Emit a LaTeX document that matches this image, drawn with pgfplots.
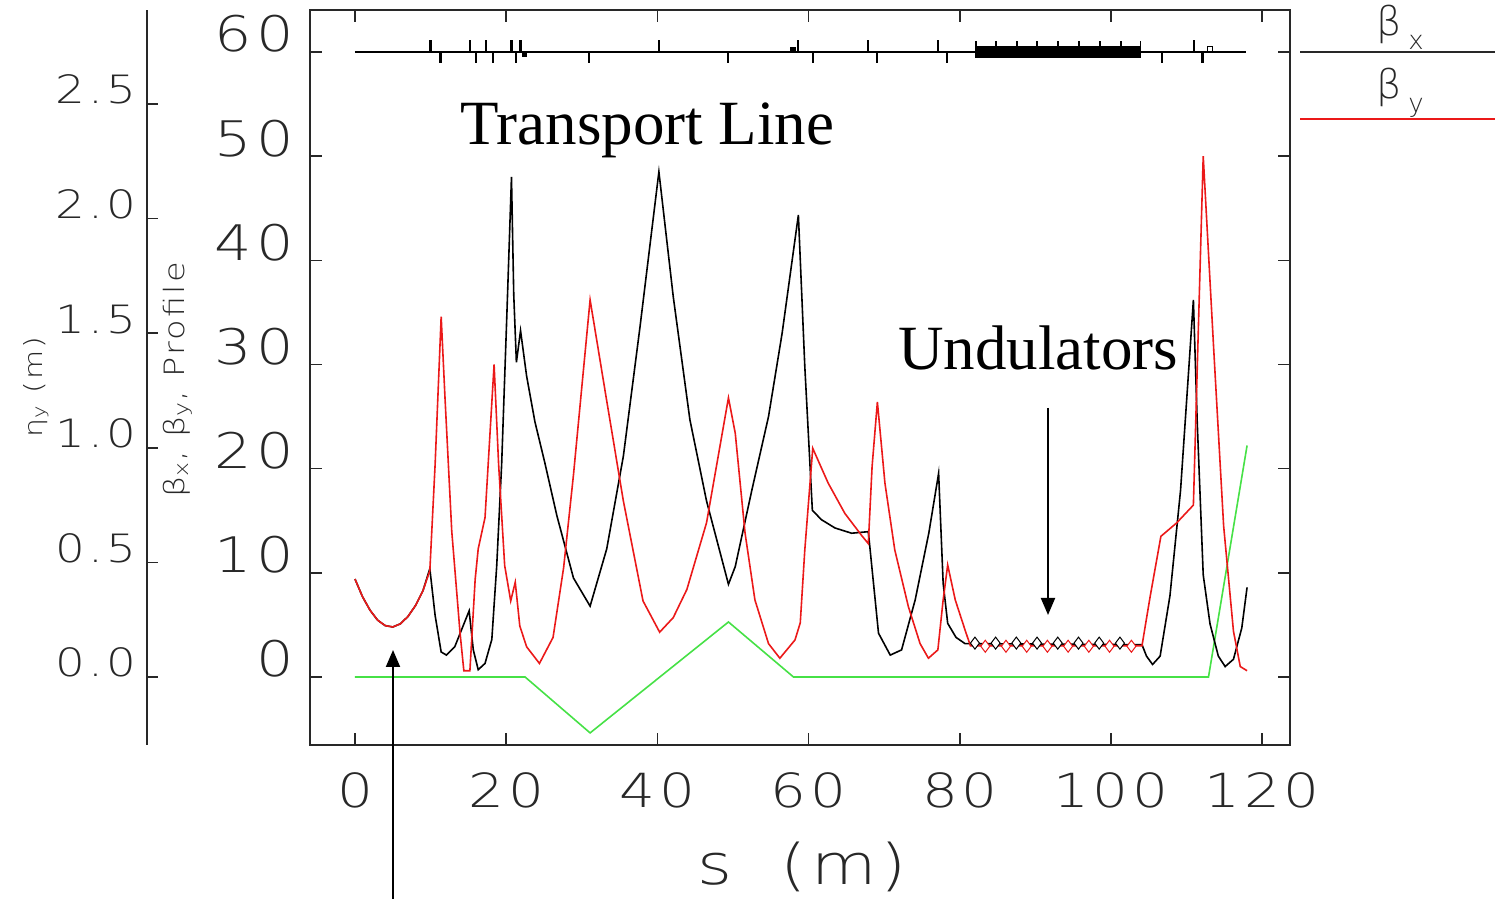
\documentclass[border=0pt]{standalone}
\usepackage{pgfplots}
\pgfplotsset{compat=1.18}
\usepackage{fontspec}
\setmainfont{Liberation Serif}
\newfontfamily\thin[FakeStretch=1.2,LetterSpace=8]{DejaVu Sans ExtraLight}
\newfontfamily\thinnl{DejaVu Sans ExtraLight}
\usetikzlibrary{arrows.meta}
\definecolor{myred}{RGB}{235,25,25}
\definecolor{mygreen}{RGB}{70,225,70}
\definecolor{txt}{RGB}{40,40,40}

\begin{document}
\begin{tikzpicture}
\path[use as bounding box] (0,0) rectangle (747.5pt,449.5pt);

% eta_y on its own scale (overlay, no axis drawn)
\begin{axis}[at={(155pt,77pt)},anchor=south west,scale only axis,
  width=490pt,height=367.5pt,xmin=-5.95,xmax=123.68,ymin=-0.2967,ymax=2.910,
  hide axis]
\addplot[mygreen,line width=0.8pt] coordinates {
(0,0) (22.5,0) (31.1,-0.244) (49.4,0.24) (58.0,0) (112.9,0) (118.0,1.01)};
\end{axis}

% eta_y axis line
\begin{axis}[at={(73.5pt,77pt)},anchor=south west,scale only axis,
  width=10pt,height=367.5pt,xmin=0,xmax=1,ymin=-0.2967,ymax=2.910,
  axis x line=none,axis y line*=left,axis line style={-,line width=0.8pt,txt},
  ytick={0,0.5,1,1.5,2,2.5},tick align=inside,major tick length=5.5pt,
  every tick/.style={txt,line width=0.8pt},
  yticklabel style={font=\thin\fontsize{19.5}{21}\selectfont,text=txt,anchor=base east,inner sep=0pt,xshift=-5pt},
  /pgf/number format/.cd,fixed,fixed zerofill,precision=1,assume math mode=true]
\addplot[draw=none] coordinates {(0,0)};
\end{axis}

% main axis
\begin{axis}[at={(155pt,77pt)},anchor=south west,scale only axis,
  width=490pt,height=367.5pt,xmin=-5.95,xmax=123.68,ymin=-6.53,ymax=64.03,
  xtick={0,20,40,60,80,100,120},ytick={0,10,20,30,40,50,60},
  tick align=inside,major tick length=6pt,
  axis line style={line width=0.9pt,txt},
  every tick/.style={txt,line width=0.8pt},
  yticklabel style={font=\thin\fontsize{24.5}{26}\selectfont,text=txt,anchor=base east,inner sep=0pt,xshift=-8pt},
  xticklabel style={font=\thin\fontsize{23.5}{26}\selectfont,text=txt,anchor=north,inner sep=0pt,yshift=-13.5pt},
  /pgf/number format/assume math mode=true,clip=false]

% lattice: baseline
\addplot[black,line width=0.7pt] coordinates {(0,60) (117.9,60)};
% focusing elements (up)
\addplot[black,line width=1.1pt,unbounded coords=jump] coordinates {
(10.0,60) (10.0,61.15) (10.0,nan)
(15.2,60) (15.2,61.15) (15.2,nan)
(17.3,60) (17.3,61.15) (17.3,nan)
(20.7,60) (20.7,61.15) (20.7,nan)
(21.9,60) (21.9,61.15) (21.9,nan)
(40.2,60) (40.2,61.15) (40.2,nan)
(58.6,60) (58.6,61.15) (58.6,nan)
(67.9,60) (67.9,61.15) (67.9,nan)
(77.1,60) (77.1,61.15) (77.1,nan)
(111.0,60) (111.0,61.15)};
% defocusing elements (down)
\addplot[black,line width=1.1pt,unbounded coords=jump] coordinates {
(11.3,60) (11.3,58.9) (11.3,nan)
(16.0,60) (16.0,58.9) (16.0,nan)
(18.3,60) (18.3,58.9) (18.3,nan)
(21.3,60) (21.3,58.9) (21.3,nan)
(31.0,60) (31.0,58.9) (31.0,nan)
(49.3,60) (49.3,58.9) (49.3,nan)
(60.6,60) (60.6,58.9) (60.6,nan)
(69.0,60) (69.0,58.9) (69.0,nan)
(78.3,60) (78.3,58.9) (78.3,nan)
(106.7,60) (106.7,58.9) (106.7,nan)
(112.1,60) (112.1,58.9)};
% undulator block
\addplot[fill=black,draw=black,line width=0.4pt] coordinates {
(82.1,59.5) (103.9,59.5) (103.9,60.5) (82.1,60.5)} -- cycle;
\addplot[black,line width=0.9pt,unbounded coords=jump] coordinates {
(82.1,59.5) (82.1,61.1) (82.1,nan)
(84.8,59.5) (84.8,61.1) (84.8,nan)
(87.6,59.5) (87.6,61.1) (87.6,nan)
(90.2,59.5) (90.2,61.1) (90.2,nan)
(93.0,59.5) (93.0,61.1) (93.0,nan)
(95.8,59.5) (95.8,61.1) (95.8,nan)
(98.5,59.5) (98.5,61.1) (98.5,nan)
(101.3,59.5) (101.3,61.1) (101.3,nan)
(103.9,59.5) (103.9,61.1)};
\addplot[only marks,mark=square*,mark size=1.1pt,black] coordinates {(22.4,59.75) (57.9,60.25)};
\addplot[only marks,mark=square,mark size=1.1pt,black,mark options={line width=0.5pt}] coordinates {(113.1,60.3)};

% beta_x
\addplot[black,line width=0.8pt] coordinates {
(0,9.4) (1,7.7) (2,6.4) (3,5.45) (4,4.93) (5,4.8) (6,5.1) (7,5.8) (8,6.85) (9,8.3)
(9.9,10.4) (10.6,5.9) (11.4,2.4) (12.1,2.1) (13.2,2.9) (14.3,4.9) (15.1,6.35)
(15.65,2.6) (16.3,0.7) (17.2,1.3) (18.1,3.6) (18.75,10.7) (19.4,20.4) (20.1,35.0)
(20.7,48.0) (21.0,36.7) (21.35,30.2) (21.9,33.25) (22.7,28.9) (23.8,24.5) (25.1,20.6)
(26.7,15.5) (28.9,9.5) (31.1,6.8) (33.3,12.3) (35.5,21.2) (37.7,33.6) (40.2,48.5)
(42.1,36.5) (44.3,24.7) (46.5,16.9) (49.4,8.9) (50.3,10.6) (52.5,17.95) (54.7,25.0)
(56.5,33.0) (58.65,44.35) (59.5,29.8) (60.5,16.0) (61.7,15.1) (63.5,14.3) (65.7,13.8)
(67.9,13.95) (69.25,4.2) (70.8,2.1) (72.3,2.6) (74.1,7.4) (75.9,13.8) (77.2,19.55)
(77.8,9.0) (78.4,5.15) (79.5,3.8) (80.7,3.2) (104.1,3.1) (104.7,2.0) (105.5,1.2)
(106.5,2.0) (107.8,7.8) (109.2,17.9) (110.3,29.7) (110.9,36.2) (111.4,24.6) (112.2,9.8)
(113.1,5.1) (114.2,2.0) (115.1,1.0) (116.2,1.7) (117.3,4.7) (118.0,8.6)};
% beta_y
\addplot[myred,line width=0.8pt] coordinates {
(0,9.4) (1,7.7) (2,6.4) (3,5.45) (4,4.93) (5,4.8) (6,5.1) (7,5.8) (8,6.85) (9,8.3)
(9.9,10.2) (10.6,20.4) (11.4,34.6) (11.9,26.9) (12.8,14.0) (13.9,4.2) (14.4,0.6)
(15.2,0.6) (15.9,9.4) (16.3,12.3) (17.2,15.3) (18.4,30.0) (19.0,20.4) (19.8,10.7)
(20.6,7.3) (21.2,9.1) (21.8,4.9) (22.7,2.9) (24.4,1.3) (26.2,3.8) (27.6,10.5)
(28.9,19.4) (31.1,36.2) (33.3,26.5) (35.5,16.9) (38.1,7.3) (40.3,4.3) (42.1,5.7)
(43.9,8.4) (46.5,14.8) (49.4,26.8) (50.3,23.4) (51.6,13.8) (52.9,7.4) (54.7,3.2)
(56.2,1.8) (58.2,3.55) (58.9,5.2) (59.5,12.2) (60.55,21.95) (62.6,18.6) (64.8,15.7)
(67.0,13.6) (67.9,12.8) (68.4,20.2) (69.1,26.4) (70.1,18.6) (71.4,12.2) (73.2,6.75)
(74.75,3.2) (75.85,1.8) (77.1,2.6) (77.8,7.4) (78.4,10.75) (79.4,7.4) (80.7,4.5)
(81.4,3.0) (104.1,3.0) (105.2,7.8) (106.6,13.5) (108.7,14.8) (110.9,16.5) (112.2,50.0)
(113.6,31.3) (114.9,14.5) (116.2,4.4) (117.1,1.0) (118.0,0.6)};
% undulator markers
\addplot[only marks,mark=diamond*,mark size=3pt,black,mark options={fill=white,line width=0.5pt}] coordinates {
(82.0,3.25) (84.74,3.25) (87.48,3.25) (90.22,3.25) (92.96,3.25) (95.7,3.25) (98.44,3.25) (101.18,3.25)};
\addplot[only marks,mark=diamond*,mark size=3pt,myred,mark options={fill=white,line width=0.5pt}] coordinates {
(83.37,2.95) (86.11,2.95) (88.85,2.95) (91.59,2.95) (94.33,2.95) (97.07,2.95) (99.81,2.95) (102.7,2.95)};
\end{axis}

% axis titles
\node[rotate=90,font=\thin\fontsize{14}{16}\selectfont,text=txt] at (89pt,259.5pt) {β\textsubscript{x}, β\textsubscript{y}, Profile};
\node[rotate=90,font=\thin\fontsize{12.5}{14}\selectfont,text=txt] at (18pt,256pt) {η\textsubscript{y} (m)};
\node[anchor=base west,font=\thin\fontsize{28}{30}\selectfont,text=txt,inner sep=0pt] at (348.5pt,7pt) {s\hspace{24pt}(m)};

% legend
\node[font=\thinnl\fontsize{20}{22}\selectfont,text=txt] at (700pt,436pt) {β\,\raisebox{-0.35em}{\fontsize{13}{14}\selectfont x}};
\draw[txt,line width=0.8pt] (650pt,423.5pt) -- (747.5pt,423.5pt);
\node[font=\thinnl\fontsize{20}{22}\selectfont,text=txt] at (700pt,403pt) {β\,\raisebox{-0.35em}{\fontsize{13}{14}\selectfont y}};
\draw[myred,line width=0.8pt] (650pt,390pt) -- (747.5pt,390pt);

% annotations
\node[anchor=base west,inner sep=0pt,font=\fontsize{31.5}{34}\selectfont] at (230pt,377pt) {Transport Line};
\node[anchor=base west,inner sep=0pt,font=\fontsize{31.5}{34}\selectfont] at (449pt,264.5pt) {Undulators};
\draw[line width=1pt,-{Triangle[width=7pt,length=8.5pt]}] (524pt,245.5pt) -- (524pt,142pt);
\draw[line width=1pt,-{Triangle[width=7pt,length=8.5pt]}] (196.5pt,0pt) -- (196.5pt,124.5pt);
\end{tikzpicture}
\end{document}
